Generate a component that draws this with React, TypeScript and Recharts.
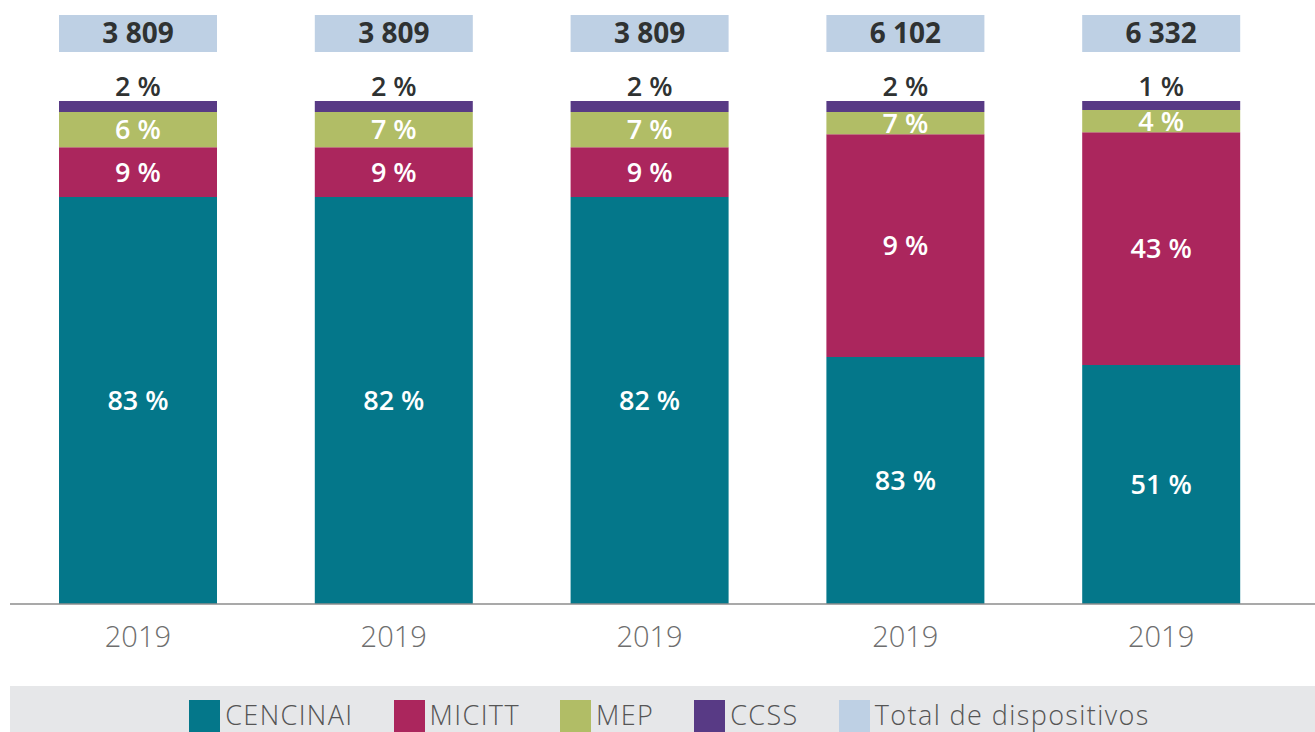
import { BarChart, Bar, XAxis, YAxis, LabelList } from "recharts";

const categories = ["2019", "2019", "2019", "2019", "2019"];

// segment heights (share of bar)
const cencinai = [80.9, 80.9, 80.9, 49.1, 47.5];
const micitt = [9.9, 9.9, 9.9, 44.3, 46.3];
const mep = [7.0, 7.0, 7.0, 4.4, 4.4];
const ccss = [2.2, 2.2, 2.2, 2.2, 1.8];

// printed labels
const cencinaiLabels = ["83 %", "82 %", "82 %", "83 %", "51 %"];
const micittLabels = ["9 %", "9 %", "9 %", "9 %", "43 %"];
const mepLabels = ["6 %", "7 %", "7 %", "7 %", "4 %"];
const ccssLabels = ["2 %", "2 %", "2 %", "2 %", "1 %"];
const totals = ["3 809", "3 809", "3 809", "6 102", "6 332"];

const COLORS = {
  cencinai: "#04778a",
  micitt: "#ab265d",
  mep: "#b1bd66",
  ccss: "#583a85",
  total: "#bed0e4",
};

const legendItems = [
  { name: "CENCINAI", color: COLORS.cencinai },
  { name: "MICITT", color: COLORS.micitt },
  { name: "MEP", color: COLORS.mep },
  { name: "CCSS", color: COLORS.ccss },
  { name: "Total de dispositivos", color: COLORS.total },
];

const data = categories.map((year, i) => ({
  year,
  cencinai: cencinai[i],
  micitt: micitt[i],
  mep: mep[i],
  ccss: ccss[i],
  cencinaiLabel: cencinaiLabels[i],
  micittLabel: micittLabels[i],
  mepLabel: mepLabels[i],
  ccssLabel: ccssLabels[i],
  total: totals[i],
}));

const FONT = "'Open Sans', 'DejaVu Sans', sans-serif";

const whiteLabel = {
  fill: "#ffffff",
  fontSize: 27,
  fontWeight: 600,
  fontFamily: FONT,
};

function TotalBox(props: any) {
  const vb = props.viewBox || props;
  const { x, y, width } = vb;
  const top = y - 86;
  return (
    <g>
      <rect x={x} y={top} width={width} height={37} fill={COLORS.total} />
      <text
        x={x + width / 2}
        y={top + 18.5}
        dy="0.355em"
        textAnchor="middle"
        fill="#2f3232"
        fontSize={28}
        fontWeight={700}
        fontFamily={FONT}
      >
        {props.value}
      </text>
    </g>
  );
}

export default function App() {
  return (
    <div
      style={{
        position: "fixed",
        left: 0,
        top: 0,
        width: 1315,
        height: 732,
        background: "#ffffff",
        overflow: "hidden",
      }}
    >
      <BarChart
        width={1315}
        height={686}
        data={data}
        margin={{ top: 101, right: 0, left: 10, bottom: 32 }}
        barSize={158}
      >
        <XAxis
          dataKey="year"
          height={50}
          padding={{ left: 0, right: 26 }}
          axisLine={{ stroke: "#8c8c8c", strokeWidth: 1.5 }}
          tickLine={false}
          tickMargin={16}
          interval={0}
          tick={{ fill: "#6e6e6e", fontSize: 29, fontWeight: 300, fontFamily: FONT }}
        />
        <YAxis hide domain={[0, 100]} />
        <Bar dataKey="cencinai" stackId="a" fill={COLORS.cencinai} isAnimationActive={false}>
          <LabelList dataKey="cencinaiLabel" position="center" style={whiteLabel} />
        </Bar>
        <Bar dataKey="micitt" stackId="a" fill={COLORS.micitt} isAnimationActive={false}>
          <LabelList dataKey="micittLabel" position="center" style={whiteLabel} />
        </Bar>
        <Bar dataKey="mep" stackId="a" fill={COLORS.mep} isAnimationActive={false}>
          <LabelList dataKey="mepLabel" position="center" style={whiteLabel} />
        </Bar>
        <Bar dataKey="ccss" stackId="a" fill={COLORS.ccss} isAnimationActive={false}>
          <LabelList
            dataKey="ccssLabel"
            position="top"
            offset={5}
            style={{ ...whiteLabel, fill: "#2f3232" }}
          />
          <LabelList dataKey="total" content={TotalBox} />
        </Bar>
      </BarChart>
      <div
        style={{
          position: "absolute",
          left: 10,
          top: 686,
          width: 1305,
          height: 46,
          background: "#e6e7e9",
          display: "flex",
          justifyContent: "center",
          gap: 40,
          paddingTop: 14,
          paddingLeft: 14,
          boxSizing: "border-box",
          fontFamily: FONT,
        }}
      >
        {legendItems.map((item) => (
          <div key={item.name} style={{ display: "flex", alignItems: "flex-start" }}>
            <div style={{ width: 31, height: 32, background: item.color, marginRight: 5 }} />
            <span
              style={{
                fontSize: 27,
                fontWeight: 300,
                lineHeight: "30px",
                marginTop: 0,
                letterSpacing: 1.4,
                color: "#555555",
                whiteSpace: "nowrap",
              }}
            >
              {item.name}
            </span>
          </div>
        ))}
      </div>
    </div>
  );
}
